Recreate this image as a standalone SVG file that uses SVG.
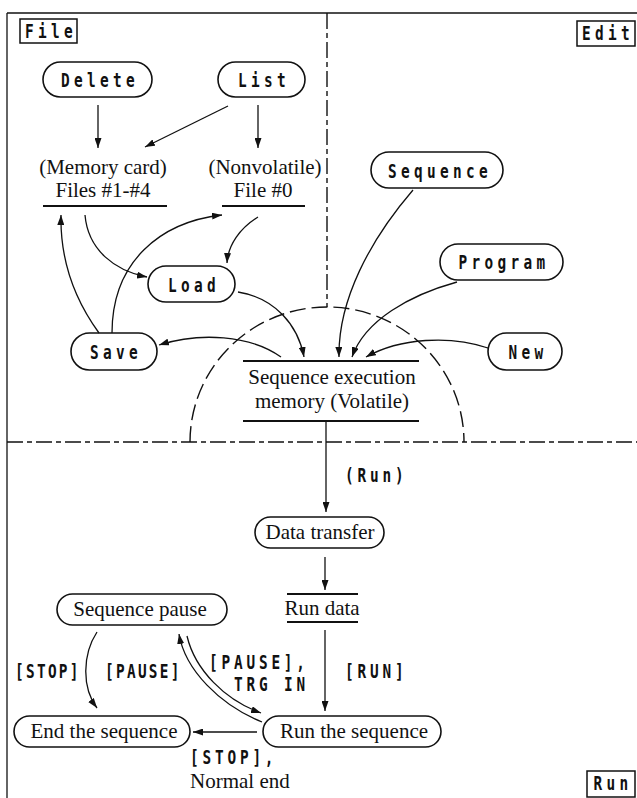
<svg xmlns="http://www.w3.org/2000/svg" width="637" height="798" viewBox="0 0 637 798">
  <defs>
    <marker id="ah" markerUnits="userSpaceOnUse" markerWidth="11" markerHeight="7" refX="10" refY="3.5" orient="auto">
      <path d="M0,0 L10,3.5 L0,7 z" fill="#111"/>
    </marker>
    <style>
      .ln { fill: none; stroke: #111; stroke-width: 1.3; }
      .arr { fill: none; stroke: #111; stroke-width: 1.3; marker-end: url(#ah); }
      .pill { fill: #fff; stroke: #111; stroke-width: 1.6; }
      .box { fill: #fff; stroke: #111; stroke-width: 1.5; }
      .bar { stroke: #111; stroke-width: 2; }
      .dd { fill: none; stroke: #111; stroke-width: 1.4; stroke-dasharray: 16 4 5 4; }
      .dash { fill: none; stroke: #111; stroke-width: 1.4; stroke-dasharray: 16 6; }
      /* narrow, widely spaced plotter-style lettering (scaled 0.72 horizontally) */
      .mono { font-family: "DejaVu Sans Mono", monospace; font-size: 20px; font-weight: bold; letter-spacing: 6px; fill: #111; text-anchor: middle; }
      .tag { font-family: "DejaVu Sans Mono", monospace; font-size: 20px; font-weight: bold; letter-spacing: 5.3px; fill: #111; }
      .tagN { font-family: "DejaVu Sans Mono", monospace; font-size: 20px; font-weight: bold; letter-spacing: 3.2px; fill: #111; }
      .serif { font-family: "Liberation Serif", serif; font-size: 21px; fill: #111; text-anchor: middle; }
      .serifL { font-family: "Liberation Serif", serif; font-size: 21px; fill: #111; }
    </style>
  </defs>
  <rect width="637" height="798" fill="#fff"/>

  <!-- frame and area dividers -->
  <g id="frame">
    <line class="ln" x1="7" y1="13" x2="637" y2="13"/>
    <line class="ln" x1="7" y1="13" x2="7" y2="798"/>
    <line class="dd" x1="327" y1="13" x2="327" y2="307"/>
    <line class="dd" x1="7" y1="442" x2="637" y2="442"/>
    <path class="dash" d="M190,442 A137,135 0 0 1 464,442"/>
  </g>

  <!-- area titles -->
  <g id="title-file"><rect class="box" x="20" y="19" width="57" height="24"/><text class="mono" transform="translate(51,38) scale(0.72,1)">File</text></g>
  <g id="title-edit"><rect class="box" x="577" y="21" width="58" height="25"/><text class="mono" transform="translate(608,40) scale(0.72,1)">Edit</text></g>
  <g id="title-run"><rect class="box" x="587" y="771" width="48" height="26"/><text class="mono" transform="translate(613,790) scale(0.72,1)">Run</text></g>

  <!-- File area -->
  <g id="delete"><rect class="pill" x="43" y="62" width="109" height="35" rx="17.5"/><text class="mono" transform="translate(100,87) scale(0.72,1)">Delete</text></g>
  <g id="list"><rect class="pill" x="218" y="62" width="87" height="35" rx="17.5"/><text class="mono" transform="translate(264,87) scale(0.72,1)">List</text></g>
  <g id="memory-card">
    <text class="serif" x="103" y="174">(Memory card)</text>
    <text class="serif" x="103" y="197">Files #1-#4</text>
    <line class="bar" x1="43" y1="206" x2="167" y2="206"/>
  </g>
  <g id="nonvolatile">
    <text class="serif" x="265" y="174">(Nonvolatile)</text>
    <text class="serif" x="263" y="197">File #0</text>
    <line class="bar" x1="222" y1="206" x2="305" y2="206"/>
  </g>
  <g id="load"><rect class="pill" x="148" y="266" width="87" height="36" rx="18"/><text class="mono" transform="translate(194,292) scale(0.72,1)">Load</text></g>
  <g id="save"><rect class="pill" x="71" y="333" width="86" height="37" rx="18.5"/><text class="mono" transform="translate(116,359) scale(0.72,1)">Save</text></g>

  <!-- Edit area -->
  <g id="sequence"><rect class="pill" x="371" y="152" width="132" height="36" rx="18"/><text class="mono" transform="translate(440,178) scale(0.72,1)">Sequence</text></g>
  <g id="program"><rect class="pill" x="440" y="244" width="123" height="36" rx="18"/><text class="mono" transform="translate(504,269) scale(0.72,1)">Program</text></g>
  <g id="new"><rect class="pill" x="488" y="333" width="74" height="37" rx="18.5"/><text class="mono" transform="translate(528,359) scale(0.72,1)">New</text></g>
  <g id="exec-memory">
    <line class="bar" x1="243" y1="361" x2="419" y2="361"/>
    <text class="serif" x="332" y="384">Sequence execution</text>
    <text class="serif" x="332" y="408">memory (Volatile)</text>
    <line class="bar" x1="243" y1="421" x2="419" y2="421"/>
  </g>

  <!-- Run area -->
  <g id="data-transfer"><rect class="pill" x="255" y="517" width="129" height="31" rx="15.5"/><text class="serif" x="320" y="539">Data transfer</text></g>
  <g id="run-data">
    <line class="bar" x1="287" y1="594" x2="358" y2="594"/>
    <text class="serif" x="322" y="615">Run data</text>
    <line class="bar" x1="287" y1="622" x2="358" y2="622"/>
  </g>
  <g id="sequence-pause"><rect class="pill" x="57" y="594" width="170" height="31" rx="15.5"/><text class="serif" x="140" y="616">Sequence pause</text></g>
  <g id="end-sequence"><rect class="pill" x="14" y="716" width="176" height="31" rx="15.5"/><text class="serif" x="104" y="738">End the sequence</text></g>
  <g id="run-sequence"><rect class="pill" x="263" y="716" width="178" height="31" rx="15.5"/><text class="serif" x="354" y="738">Run the sequence</text></g>

  <!-- connectors -->
  <g id="connectors">
    <path class="arr" d="M98,105 L98,148"/>
    <path class="arr" d="M258,105 L258,148"/>
    <path class="arr" d="M228,106 L145,147"/>
    <path class="arr" d="M85,215 C88,250 115,271 147,277"/>
    <path class="arr" d="M99,333 C75,300 60,262 61,215"/>
    <path class="arr" d="M112,333 C112,262 160,222 222,215"/>
    <path class="arr" d="M258,217 C240,228 228,245 227,263"/>
    <path class="arr" d="M238,292 C275,298 298,325 304,357"/>
    <path class="arr" d="M413,190 C370,240 338,300 339,357"/>
    <path class="arr" d="M457,282 C410,295 365,320 352,357"/>
    <path class="arr" d="M488,348 C450,335 400,338 366,357"/>
    <path class="arr" d="M281,357 C250,335 200,332 159,345"/>
    <path class="arr" d="M326,422 L326,512"/>
    <path class="arr" d="M325,557 L325,590"/>
    <path class="arr" d="M325,630 L325,711"/>
    <path class="arr" d="M257,732 L193,732"/>
    <path class="arr" d="M97,632 C82,655 82,688 97,708"/>
    <path class="arr" d="M262,722 C220,705 185,670 179,634"/>
    <path class="arr" d="M187,636 C195,670 225,700 261,713"/>
  </g>

  <!-- connector labels -->
  <g id="labels">
    <text class="tag" transform="translate(345,482) scale(0.72,1)">(Run)</text>
    <text class="tag" transform="translate(345,678) scale(0.72,1)">[RUN]</text>
    <text class="tagN" transform="translate(15,678) scale(0.72,1)">[STOP]</text>
    <text class="tagN" transform="translate(105,678) scale(0.72,1)">[PAUSE]</text>
    <text class="tag" transform="translate(209,669) scale(0.72,1)">[PAUSE],</text>
    <text class="tag" transform="translate(234,691) scale(0.72,1)">TRG IN</text>
    <text class="tag" transform="translate(190,764) scale(0.72,1)">[STOP],</text>
    <text class="serifL" x="190" y="788">Normal end</text>
  </g>
</svg>
